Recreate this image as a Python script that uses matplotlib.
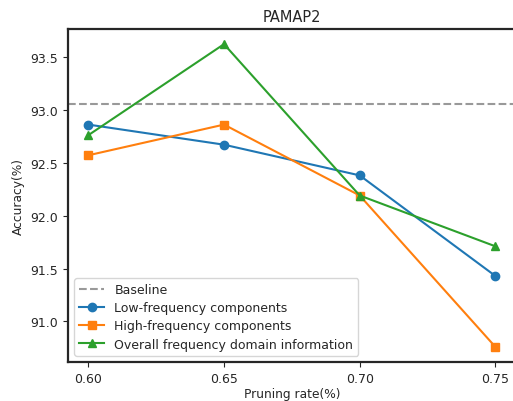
import matplotlib
matplotlib.use("Agg")
import matplotlib.pyplot as plt

pruning_rate = [0.60, 0.65, 0.70, 0.75]
baseline = 93.05
low_freq = [92.86, 92.67, 92.38, 91.43]
high_freq = [92.57, 92.86, 92.19, 90.76]
overall = [92.76, 93.62, 92.19, 91.71]

DARK = "#262626"
plt.rcParams.update({
    "text.color": DARK,
    "axes.labelcolor": DARK,
    "xtick.color": DARK,
    "ytick.color": DARK,
    "axes.edgecolor": DARK,
})

fig = plt.figure(figsize=(5.13, 4.02), dpi=100)
ax = fig.add_axes([68 / 513, 39 / 402, 447.7 / 513, 333 / 402])

ax.axhline(baseline, color="#999999", lw=1.5, ls="--", label="Baseline")
ax.plot(pruning_rate, low_freq, color="#1f77b4", marker="o", ms=6, lw=1.5, label="Low-frequency components")
ax.plot(pruning_rate, high_freq, color="#ff7f0e", marker="s", ms=6, lw=1.5, label="High-frequency components")
ax.plot(pruning_rate, overall, color="#2ca02c", marker="^", ms=6, lw=1.5, label="Overall frequency domain information")

ax.set_xticks(pruning_rate)
ax.set_xticklabels(["0.60", "0.65", "0.70", "0.75"])
ax.set_xlim(0.5925, 0.7575)
ax.set_ylim(90.617, 93.763)
ax.tick_params(labelsize=9)
for s in ax.spines.values():
    s.set_linewidth(1.6)
ax.set_xlabel("Pruning rate(%)", fontsize=8.8, labelpad=2)
ax.set_ylabel("Accuracy(%)", fontsize=8.8)
ax.set_title("PAMAP2", fontsize=10.5)
ax.legend(loc="lower left", fontsize=9, labelspacing=0.42)

fig.savefig("out.png", dpi=100, facecolor="white")
